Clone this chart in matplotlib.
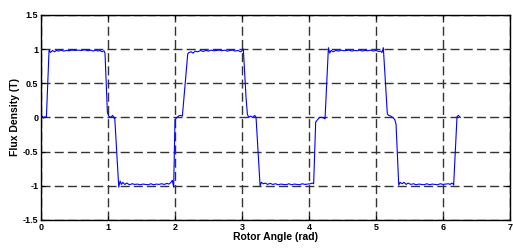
import matplotlib
matplotlib.use("Agg")
import matplotlib.pyplot as plt

plt.rcParams['font.family'] = ['Liberation Sans', 'DejaVu Sans']
plt.rcParams['font.weight'] = 'bold'

# flux density, segment by segment
angle_1 = [0.00, 0.02, 0.04, 0.06, 0.08, 0.12, 0.14, 0.17, 0.20, 0.23, 0.26, 0.30, 0.34,
           0.38, 0.42, 0.46, 0.50, 0.55, 0.60, 0.65, 0.70, 0.74, 0.78, 0.82, 0.85,
           0.88, 0.91, 0.94, 0.955, 0.99, 1.01, 1.04, 1.07, 1.09, 1.10]
flux_1 = [0.00, 0.02, -0.01, 0.01, 0.00, 0.99, 0.95, 0.98, 0.96, 0.98, 0.97, 0.985, 0.97,
          0.98, 0.975, 0.985, 0.98, 0.985, 0.98, 0.99, 0.975, 0.985, 0.97, 0.985, 0.97,
          0.98, 0.96, 0.975, 0.94, 0.08, 0.02, 0.00, 0.03, -0.01, 0.00]

angle_2 = [1.16, 1.18, 1.20, 1.22, 1.25, 1.28, 1.32, 1.36, 1.40, 1.44, 1.48, 1.52, 1.56,
           1.60, 1.64, 1.68, 1.72, 1.76, 1.80, 1.84, 1.88, 1.91, 1.94, 1.96, 1.98,
           2.00, 2.02, 2.05, 2.08, 2.11]
flux_2 = [-1.02, -0.93, -0.98, -0.95, -0.98, -0.96, -0.985, -0.97, -0.98, -0.975, -0.985,
          -0.975, -0.98, -0.985, -0.97, -0.985, -0.975, -0.98, -0.97, -0.98, -0.965, -0.975,
          -0.95, -0.92, -1.02, -0.03, -0.01, 0.02, 0.03, 0.02]

angle_3 = [2.19, 2.21, 2.24, 2.27, 2.30, 2.34, 2.38, 2.42, 2.46, 2.50, 2.54, 2.58, 2.62,
           2.66, 2.70, 2.74, 2.78, 2.82, 2.86, 2.90, 2.94, 2.98, 3.00, 3.02, 3.06,
           3.08, 3.10, 3.13, 3.16, 3.19, 3.21]
flux_3 = [0.93, 0.95, 0.96, 0.94, 0.97, 0.96, 0.98, 0.965, 0.98, 0.97, 0.985, 0.975, 0.98,
          0.985, 0.975, 0.985, 0.97, 0.98, 0.985, 0.97, 0.98, 0.96, 0.975, 1.00, 0.30,
          0.05, 0.00, 0.02, 0.00, 0.03, 0.00]

angle_4 = [3.27, 3.29, 3.32, 3.35, 3.38, 3.42, 3.46, 3.50, 3.54, 3.58, 3.62, 3.66, 3.70,
           3.74, 3.78, 3.82, 3.86, 3.90, 3.94, 3.98, 4.02, 4.05, 4.07, 4.10, 4.13,
           4.16, 4.20, 4.24]
flux_4 = [-1.00, -0.95, -0.97, -0.96, -0.98, -0.965, -0.98, -0.97, -0.985, -0.975, -0.98,
          -0.985, -0.97, -0.985, -0.975, -0.98, -0.985, -0.97, -0.98, -0.975, -0.97, -0.96,
          -0.97, -0.07, -0.03, 0.00, 0.00, -0.02]

angle_5 = [4.29, 4.31, 4.33, 4.36, 4.40, 4.44, 4.48, 4.52, 4.56, 4.60, 4.64, 4.68, 4.72,
           4.76, 4.80, 4.84, 4.88, 4.92, 4.96, 5.00, 5.04, 5.07, 5.09, 5.11, 5.17,
           5.19, 5.22, 5.25, 5.28, 5.30]
flux_5 = [1.02, 0.94, 0.98, 0.96, 0.98, 0.97, 0.985, 0.975, 0.98, 0.985, 0.97, 0.98, 0.975,
          0.985, 0.97, 0.98, 0.975, 0.985, 0.97, 0.98, 0.965, 0.97, 0.95, 1.02, 0.05,
          0.03, 0.02, 0.00, -0.03, -0.10]

angle_6 = [5.34, 5.36, 5.39, 5.42, 5.45, 5.48, 5.52, 5.56, 5.60, 5.64, 5.68, 5.72, 5.76,
           5.80, 5.84, 5.88, 5.92, 5.96, 6.00, 6.04, 6.08, 6.11, 6.13, 6.15, 6.16,
           6.21, 6.23, 6.26]
flux_6 = [-0.99, -0.95, -0.97, -0.95, -0.98, -0.96, -0.98, -0.97, -0.985, -0.975, -0.98,
          -0.985, -0.97, -0.985, -0.975, -0.98, -0.985, -0.97, -0.98, -0.975, -0.97, -0.98,
          -0.96, -0.97, -0.99, 0.01, 0.03, 0.00]

angle = angle_1 + angle_2 + angle_3 + angle_4 + angle_5 + angle_6
flux = flux_1 + flux_2 + flux_3 + flux_4 + flux_5 + flux_6

xticks = [0, 1, 2, 3, 4, 5, 6, 7]
yticks = [-1.5, -1, -0.5, 0, 0.5, 1, 1.5]
ytick_labels = ['-1.5', '-1', '-0.5', '0', '0.5', '1', '1.5']

fig = plt.figure(figsize=(5.13, 2.48), dpi=100)
ax = fig.add_axes([0.080, 0.113, 0.914, 0.827])

ax.plot(angle, flux, color='#0000ff', linewidth=0.8)

ax.set_xlim(0, 7)
ax.set_ylim(-1.5, 1.5)
ax.set_xticks(xticks)
ax.set_yticks(yticks)
ax.set_yticklabels(ytick_labels)
ax.grid(True, color='#333333', linestyle=(0, (6.5, 3)), linewidth=1.0)
ax.tick_params(direction='in', length=3, width=0.8, top=True, right=True,
               labelsize=6.5, pad=2)
for lbl in ax.get_xticklabels() + ax.get_yticklabels():
    lbl.set_fontweight('bold')
for s in ax.spines.values():
    s.set_linewidth(1.0)

ax.set_xlabel('Rotor Angle (rad)', fontsize=7.5, fontweight='bold', labelpad=0)
ax.set_ylabel('Flux Density (T)', fontsize=7.5, fontweight='bold', labelpad=2)

fig.savefig('out.png', dpi=100)
